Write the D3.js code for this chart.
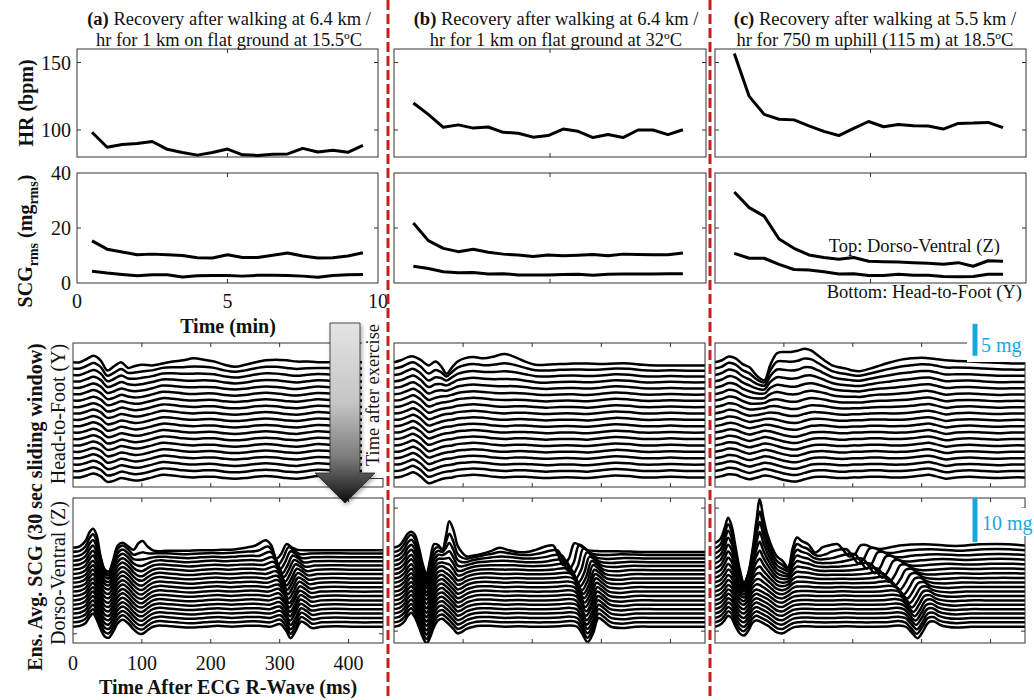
<!DOCTYPE html>
<html><head><meta charset="utf-8">
<script src="https://cdnjs.cloudflare.com/ajax/libs/d3/7.8.5/d3.min.js"></script>
<style>
body{margin:0;background:#fff}
svg{display:block}
text{font-family:"Liberation Serif","Times New Roman",serif;fill:#111}
</style></head>
<body><svg id="c" width="1034" height="700"></svg>
<script>
// ---------------- DATA ----------------
const timeMinA  = [0.5,1,1.5,2,2.5,3,3.5,4,4.5,5,5.5,6,6.5,7,7.5,8,8.5,9,9.5];
const timeMinBC = [0.62,1.10,1.58,2.06,2.54,3.02,3.50,3.98,4.46,4.94,5.42,5.90,6.38,6.86,7.34,7.82,8.30,8.78,9.26];

const hrA = [98.3,87.2,89.3,90,91.5,85.7,83.3,81.4,83.3,85.9,81.6,81.2,82,82.3,86.4,83.7,85,83.5,88.6];
const hrB = [120,111.6,102,103.8,101.4,102.2,98.3,97.6,94.7,95.9,100.7,99,94.4,96.6,94.4,100,100,96.6,100.2];
const hrC = [156.7,124.9,111.6,108,107.5,103.1,99,95.9,101.2,106.3,102.4,104.1,103.1,102.9,100.7,104.9,105.1,105.6,101.7];

const scgZA = [15.3,12.3,11.3,10.3,10.5,10.3,10,9.2,9.1,10.3,9.3,9.3,10.1,10.9,9.8,9.1,9.2,9.8,11];
const scgYA = [4.3,3.6,3.1,2.6,3,3,2.2,2.6,2.7,2.7,2.5,2.8,2.8,2.7,2.5,2.1,2.7,3,3.1];
const scgZB = [21.8,15.4,12.6,11.4,12.3,11.2,10.5,10.2,9.6,10.2,9.9,10.1,10.4,9.9,10.5,10.4,10.3,10.3,10.9];
const scgYB = [6.1,5.3,4.1,3.7,3.8,3.3,3.4,2.9,2.9,2.9,3.1,3.2,2.8,3.2,3.3,3.3,3.3,3.4,3.4];
const scgZC = [33.1,27.4,24.3,16,12.6,10.2,9.3,8.6,9.3,7.9,7.7,7.6,7.4,7.2,6.8,7.4,6.1,8.1,7.9];
const scgYC = [10.8,9,9,6.8,4.9,4.7,4.1,3.3,3.4,2.7,2.7,3.2,2.8,2.8,2.4,2.3,2.4,3.2,3.2];

const hrTicks = [100,150];
const scgTicks = [0,20,40];
const minTicks = [0,5,10];
const msTicks = [0,100,200,300,400];

const titlesLine1 = [["(a)"," Recovery after walking at 6.4 km /"],["(b)"," Recovery after walking at 6.4 km /"],["(c)"," Recovery after walking at 5.5 km /"]];
const titlesLine2 = ["hr for 1 km on flat ground at 15.5ºC","hr for 1 km on flat ground at 32ºC","hr for 750 m uphill (115 m) at 18.5ºC"];

// Ensemble-averaged SCG waveforms (mg):
// "late" = recovered beat shape (lower traces), "early" = first window after exercise (top trace)
const wavAY_t     = [0,10,20,30,40,50,60,70,80,90,100,115,130,145,160,175,190,205,220,235,250,265,280,295,310,325,340,355,375,400,425,450];
const wavAY_late  = [0,0,0.3,0.6,0.2,-0.7,-0.5,-0.1,-0.3,-0.5,-0.4,0,0.4,0.3,0.1,0,0.1,0.1,-0.1,-0.2,-0.1,0.1,0.2,0.1,-0.1,-0.2,0,0.2,0.1,0,0,0];
const wavAY_early = [0,0,0.5,1.0,0.3,-1.3,-0.6,0,-0.9,-0.6,-0.4,-0.5,-0.2,0.1,0.3,0.6,0.4,0.1,-0.4,-0.7,-0.4,0,0.3,0.4,0.3,0.1,0.1,0,0,0,0,0];

const wavBY_t     = [0,10,20,28,38,50,60,68,76,84,92,102,115,130,145,160,175,190,205,220,240,260,280,300,320,340,360,380,400,425,450];
const wavBY_late  = [0,0.1,0.5,0.8,0.2,-0.9,-0.6,-0.3,-0.1,0,0.2,0.3,0.4,0.3,0.1,0,0.1,0.1,0,-0.1,0,0,-0.1,0.1,0.3,0.2,0,0,0.1,0,0];
const wavBY_early = [0,0.3,0.8,0.9,0.4,-0.5,0.1,-0.6,-1.8,-0.8,0.1,0.6,0.8,0.6,0.9,1.3,0.8,0.1,-0.4,-0.4,-0.3,-0.2,-0.2,-0.3,-0.2,-0.2,-0.4,-0.5,-0.5,-0.5,-0.5];

const wavCY_t     = [0,10,20,30,40,50,58,65,72,80,90,100,110,120,130,140,150,160,170,180,190,200,210,225,240,255,270,285,300,310,320,335,350,370,390,410,430,450];
const wavCY_late  = [0,0.2,0.5,0.4,0,-0.3,-0.1,0.1,0.3,0.2,-0.1,-0.4,-0.6,-0.6,-0.3,0,0.1,0.1,0,-0.1,-0.1,0,0,0.1,0.1,0,0,0.1,0.3,0.4,0.2,-0.2,0,0.1,0,-0.1,0,0];
const wavCY_early = [0,0.3,0.9,0.6,-0.3,-0.8,-1.8,-2.5,-2.8,-0.5,1.4,1.6,1.6,1.8,2.1,1.8,1.0,0.2,-0.5,-0.8,-1.0,-1.3,-1.4,-1.0,-0.5,0,0.4,0.6,0.7,0.6,0.5,0.3,0.2,0.1,0,-0.1,-0.2,-0.2];

const wavAZ_t     = [0,10,18,24,29,34,40,46,52,58,65,72,80,88,95,101,108,116,125,135,150,170,190,210,230,250,270,285,300,308,315,322,330,338,346,360,380,410,450,500];
const wavAZ_late  = [0,0.2,0.8,2.2,3.0,1.8,-0.5,-2.2,-2.5,-1.2,0.8,1.6,0.8,-0.6,-1.5,-1.6,-0.8,0,0.3,0.2,0,-0.2,0,0.2,0,0.2,0.2,0,0.6,-0.8,-2.6,-1.0,1.2,0.6,-0.3,0,0.1,0,0,0];
const wavAZ_early = [0,0.3,1.5,3.5,4.3,3.0,-2,-5,-5.5,-3,0.5,1.1,0.3,-0.5,1.0,1.5,0.3,-0.6,-0.8,-0.7,-0.7,-0.7,-0.6,-0.6,-0.5,-0.4,0,0.5,1.7,0.5,-2.5,-1.5,0.8,0,-0.5,-0.6,-0.6,-0.6,-0.6,-0.6];

const wavBZ_t     = [0,8,15,20,25,30,36,42,47,52,58,64,70,75,80,86,92,98,105,115,125,140,160,180,200,220,240,255,265,272,280,288,296,304,314,330,350,380,410,450,500];
const wavBZ_late  = [0,0.3,1.2,2.5,3.2,2.2,0,-2.5,-3.8,-2.5,0,1.5,1.8,1.2,0.5,-0.5,-1.5,-1.2,-0.5,0,0.2,0.2,0,0.1,0,0,0.1,0.3,0,-1.5,-3.5,-1.5,2.0,1.2,0,-0.3,0,0,0,0,0];
const wavBZ_early = [0,0.5,2.0,3.2,3.6,3.0,0,-4,-6,-3,0.8,0.6,-0.5,2.5,6.0,4.0,0.5,-1.0,-2.0,-1.8,-1.5,-0.8,0,-0.6,-1.0,-1.0,-0.5,0.3,0.5,-1.5,-4.0,-2.5,1.0,0.5,-0.5,-0.8,-0.8,-1.0,-1.0,-1.0,-1.0];

const wavCZ_t     = [0,8,14,19,24,30,36,42,48,54,60,65,70,76,83,90,98,106,113,119,126,135,150,170,190,210,230,252,265,275,283,292,300,308,316,325,335,350,370,395,415,437,450,500];
const wavCZ_late  = [0,0.5,1.5,2.5,2.0,0,-1.5,-2.0,-1.0,0.8,1.5,1.2,0.8,0.3,-0.5,-1.3,-1.5,-0.8,-0.2,0,0.1,0.1,0,0,0.1,0,0,0.1,0.3,0,-1.2,-2.6,-1.0,1.0,1.2,0.4,0,-0.2,0,0,0,0,0,0];
const wavCZ_early = [1,2,4.5,6.8,5.0,0,-5,-8,-6,-1,6,11,7,3,0,-2,-3,-4.5,0,2.3,1.5,0.8,-0.5,-1.0,-1.1,-0.8,-0.5,0,0.6,0.8,-0.5,-2.0,-1.5,0.5,0.6,0,-0.3,0.5,0.8,0.4,0.8,0.8,0.5,0.5];

// time of the late (AC) complex in each Z template (ms)
const acRefA = 315, acRefB = 280, acRefC = 292;

// per 30-s window (19 windows, top to bottom): amplitude gain, share of early shape, AC complex time (ms)
const gainA = [1.4,1.25,1.15,1.1,1.05,1.05,1,1,1,1,1,1,1,1,1,1,1,1,1];
const mixA  = [1,0.55,0.35,0.2,0.12,0.06,0.03,0,0,0,0,0,0,0,0,0,0,0,0];
const acA   = [295,298,301,304,306,308,310,311,312,313,314,314,315,315,315,316,316,316,316];
const gainB = [1.6,1.4,1.25,1.15,1.1,1.05,1.05,1,1,1,1,1,1,1,1,1,1,1,1];
const mixB  = [1,0.65,0.45,0.3,0.2,0.12,0.06,0.03,0,0,0,0,0,0,0,0,0,0,0];
const acB   = [245,252,258,263,267,270,272,274,275,276,277,278,278,279,279,280,280,280,280];
const gainC = [2.0,1.8,1.6,1.45,1.3,1.2,1.12,1.06,1.03,1,1,1,1,1,1,1,1,1,1];
const mixC  = [1,0.8,0.65,0.52,0.4,0.3,0.22,0.15,0.1,0.06,0.03,0,0,0,0,0,0,0,0];
const acC   = [195,208,220,232,243,253,261,268,274,279,283,286,288,290,291,292,293,293,294];

const zTicksA = [-0.7,-19.6];
const zTicksBC = [9,-19];

// ---------------- LAYOUT ----------------
const svg = d3.select('#c');
const topCols = [{x0:77,x1:378},{x0:394,x1:706},{x0:715,x1:1026}];
const botCols = [{x0:73,x1:383},{x0:394,x1:705},{x0:715,x1:1025}];
const hrBox = {y0:49,y1:157}, scgBox = {y0:173,y1:283};
const yBox = {y0:343,y1:487}, zBox = {y0:498,y1:643};
const traceStep = 1; // mg between successive windows

const defs = svg.append('defs');
let clipId = 0;

function box(x0,x1,y0,y1){
  svg.append('rect').attr('x',x0).attr('y',y0).attr('width',x1-x0).attr('height',y1-y0)
    .attr('fill','none').attr('stroke','#333').attr('stroke-width',1);
}
function xTicks(xs, vals, y0, y1){
  vals.forEach(v=>{
    const x = xs(v);
    svg.append('line').attr('x1',x).attr('x2',x).attr('y1',y1).attr('y2',y1-4).attr('stroke','#333');
    svg.append('line').attr('x1',x).attr('x2',x).attr('y1',y0).attr('y2',y0+4).attr('stroke','#333');
  });
}
function yTicks(ys, vals, x0, x1){
  vals.forEach(v=>{
    const y = ys(v);
    svg.append('line').attr('x1',x0).attr('x2',x0+4).attr('y1',y).attr('y2',y).attr('stroke','#333');
    svg.append('line').attr('x1',x1).attr('x2',x1-4).attr('y1',y).attr('y2',y).attr('stroke','#333');
  });
}

// ---------------- TOP PANELS ----------------
const hrSets = [hrA,hrB,hrC];
const scgSets = [[scgZA,scgYA],[scgZB,scgYB],[scgZC,scgYC]];
const timeSets = [timeMinA,timeMinBC,timeMinBC];

topCols.forEach((c,i)=>{
  const xs = d3.scaleLinear().domain([0,10]).range([c.x0,c.x1]);
  const yh = d3.scaleLinear().domain([80,160]).range([hrBox.y1,hrBox.y0]);
  const ysg = d3.scaleLinear().domain([0,40]).range([scgBox.y1,scgBox.y0]);
  const line = d3.line().x((d,j)=>xs(timeSets[i][j])).curve(d3.curveLinear);

  box(c.x0,c.x1,hrBox.y0,hrBox.y1);
  box(c.x0,c.x1,scgBox.y0,scgBox.y1);
  xTicks(xs,[5],hrBox.y0,hrBox.y1);
  xTicks(xs,[5],scgBox.y0,scgBox.y1);
  yTicks(yh,hrTicks,c.x0,c.x1);
  yTicks(ysg,[20],c.x0,c.x1);

  svg.append('path').datum(hrSets[i]).attr('d',line.y(d=>yh(d)))
    .attr('fill','none').attr('stroke','#000').attr('stroke-width',3).attr('stroke-linejoin','round');
  scgSets[i].forEach(s=>{
    svg.append('path').datum(s).attr('d',line.y(d=>ysg(d)))
      .attr('fill','none').attr('stroke','#000').attr('stroke-width',3).attr('stroke-linejoin','round');
  });

  // titles
  const cx = (i===0)?229:(i===1?556:875);
  const t1 = svg.append('text').attr('x',cx).attr('y',25).attr('text-anchor','middle').attr('font-size',18.5);
  t1.append('tspan').attr('font-weight','bold').text(titlesLine1[i][0]);
  t1.append('tspan').text(titlesLine1[i][1]);
  svg.append('text').attr('x',cx).attr('y',46).attr('text-anchor','middle').attr('font-size',18.5).text(titlesLine2[i]);

  if(i===0){
    hrTicks.forEach(v=>svg.append('text').attr('x',c.x0-6).attr('y',yh(v)).attr('dy','0.35em')
      .attr('text-anchor','end').attr('font-size',20).text(v));
    scgTicks.forEach(v=>svg.append('text').attr('x',c.x0-6).attr('y',ysg(v)).attr('dy','0.35em')
      .attr('text-anchor','end').attr('font-size',20).text(v));
    minTicks.forEach(v=>svg.append('text').attr('x',xs(v)).attr('y',308)
      .attr('text-anchor','middle').attr('font-size',20).text(v));
    svg.append('text').attr('x',228).attr('y',333).attr('text-anchor','middle')
      .attr('font-size',20).attr('font-weight','bold').text('Time (min)');
  }
});

// y labels top
svg.append('text').attr('transform','translate(33,103) rotate(-90)').attr('text-anchor','middle')
  .attr('font-size',20).attr('font-weight','bold').text('HR (bpm)');
{
  const t = svg.append('text').attr('transform','translate(32,241) rotate(-90)').attr('text-anchor','middle')
    .attr('font-size',20).attr('font-weight','bold');
  t.append('tspan').text('SCG');
  t.append('tspan').attr('dy',6).attr('font-size',14).text('rms');
  t.append('tspan').attr('dy',-6).text(' (mg');
  t.append('tspan').attr('dy',6).attr('font-size',14).text('rms');
  t.append('tspan').attr('dy',-6).text(')');
}
svg.append('text').attr('x',1000).attr('y',252).attr('text-anchor','end').attr('font-size',18.5).text('Top: Dorso-Ventral (Z)');
svg.append('text').attr('x',1022).attr('y',298).attr('text-anchor','end').attr('font-size',18.5).text('Bottom: Head-to-Foot (Y)');

// ---------------- WATERFALL PANELS ----------------
function warpTime(t, R, ac){
  const T0 = 140, T3 = 450, a = R-40, b = R+40, a2 = ac-40, b2 = ac+40;
  if (t <= T0) return t;
  if (t <= a) return T0 + (t-T0)*(a2-T0)/(a-T0);
  if (t <= b) return t + (ac-R);
  if (t <= T3) return b2 + (t-b)*(T3-b2)/(T3-b);
  return t;
}
const cols = [
  {gain:gainA,mix:mixA,ac:acA,
   Y:{t:wavAY_t,late:wavAY_late,early:wavAY_early},
   Z:{t:wavAZ_t,late:wavAZ_late,early:wavAZ_early,R:acRefA}, zt:zTicksA},
  {gain:gainB,mix:mixB,ac:acB,
   Y:{t:wavBY_t,late:wavBY_late,early:wavBY_early},
   Z:{t:wavBZ_t,late:wavBZ_late,early:wavBZ_early,R:acRefB}, zt:zTicksBC},
  {gain:gainC,mix:mixC,ac:acC,
   Y:{t:wavCY_t,late:wavCY_late,early:wavCY_early},
   Z:{t:wavCZ_t,late:wavCZ_late,early:wavCZ_early,R:acRefC}, zt:zTicksBC}
];

function drawWaterfall(c, col, wav, bx, ydom, ticks){
  const xs = d3.scaleLinear().domain([0,450]).range([c.x0,c.x1]);
  const ys = d3.scaleLinear().domain(ydom).range([bx.y1,bx.y0]);
  const id = 'clip'+(clipId++);
  defs.append('clipPath').attr('id',id).append('rect')
    .attr('x',c.x0).attr('y',bx.y0).attr('width',c.x1-c.x0).attr('height',bx.y1-bx.y0);
  const g = svg.append('g').attr('clip-path',`url(#${id})`);
  const line = d3.line().x(d=>xs(d[0])).y(d=>ys(d[1])).curve(d3.curveCatmullRom.alpha(0.5));
  col.gain.forEach((gn,k)=>{
    const m = col.mix[k];
    const pts = wav.t.map((tt,i)=>[
      wav.R ? warpTime(tt,wav.R,col.ac[k]) : tt,
      -k*traceStep + (1-m)*gn*wav.late[i] + m*wav.early[i]
    ]);
    g.append('path').attr('d',line(pts)).attr('fill','none').attr('stroke','#000')
      .attr('stroke-width',2.5).attr('stroke-linejoin','round');
  });
  box(c.x0,c.x1,bx.y0,bx.y1);
  xTicks(xs,[100,200,300,400],bx.y0,bx.y1);
  if(ticks) yTicks(ys,ticks,c.x0,c.x1);
  return xs;
}

botCols.forEach((c,i)=>{
  drawWaterfall(c, cols[i], cols[i].Y, yBox, [-19.5,3], null);
  const xs = drawWaterfall(c, cols[i], cols[i].Z, zBox, [-21.7,11.3], cols[i].zt);
  if(i===0){
    msTicks.forEach(v=>svg.append('text').attr('x',xs(v)).attr('y',670)
      .attr('text-anchor','middle').attr('font-size',20).text(v));
    svg.append('text').attr('x',228).attr('y',694).attr('text-anchor','middle')
      .attr('font-size',20).attr('font-weight','bold').text('Time After ECG R-Wave (ms)');
  }
});

// lower y labels
svg.append('text').attr('transform','translate(42,507) rotate(-90)').attr('text-anchor','middle')
  .attr('font-size',20).attr('font-weight','bold').text('Ens. Avg. SCG (30 sec sliding window)');
svg.append('text').attr('transform','translate(65,414) rotate(-90)').attr('text-anchor','middle')
  .attr('font-size',20).text('Head-to-Foot (Y)');
svg.append('text').attr('transform','translate(65,573) rotate(-90)').attr('text-anchor','middle')
  .attr('font-size',20).text('Dorso-Ventral (Z)');

// scale bars (panel c)
{
  const ysY = d3.scaleLinear().domain([-19.5,3]).range([yBox.y1,yBox.y0]);
  const ysZ = d3.scaleLinear().domain([-21.7,11.3]).range([zBox.y1,zBox.y0]);
  svg.append('rect').attr('x',967).attr('y',322).attr('width',64).attr('height',40).attr('fill','#fff');
  svg.append('line').attr('x1',975).attr('x2',975).attr('y1',ysY(6)).attr('y2',ysY(1))
    .attr('stroke','#1aa7e0').attr('stroke-width',5);
  svg.append('text').attr('x',981).attr('y',352).attr('font-size',20).style('fill','#1aa7e0').text('5 mg');
  svg.append('rect').attr('x',978).attr('y',508).attr('width',56).attr('height',28).attr('fill','#fff');
  svg.append('line').attr('x1',975).attr('x2',975).attr('y1',ysZ(11.3)).attr('y2',ysZ(1.3))
    .attr('stroke','#1aa7e0').attr('stroke-width',5);
  svg.append('text').attr('x',982).attr('y',530).attr('font-size',20).style('fill','#1aa7e0').text('10 mg');
}

// arrow "Time after exercise"
{
  const grad = defs.append('linearGradient').attr('id','ag').attr('x1',0).attr('y1',0).attr('x2',0).attr('y2',1);
  grad.append('stop').attr('offset','0%').attr('stop-color','#e4e4e4');
  grad.append('stop').attr('offset','45%').attr('stop-color','#c4c4c4');
  grad.append('stop').attr('offset','75%').attr('stop-color','#7a7a7a');
  grad.append('stop').attr('offset','100%').attr('stop-color','#0c0c0c');
  const f = defs.append('filter').attr('id','sh').attr('x','-30%').attr('y','-10%').attr('width','160%').attr('height','130%');
  f.append('feDropShadow').attr('dx',1.5).attr('dy',2).attr('stdDeviation',2).attr('flood-color','#000').attr('flood-opacity',0.35);
  svg.append('rect').attr('x',362).attr('y',321).attr('width',23).attr('height',157).attr('fill','#fff');
  svg.append('path').attr('d','M330,323 L360,323 L360,473 L375,473 L345,503 L315,473 L330,473 Z')
    .attr('fill','url(#ag)').attr('stroke','#222').attr('stroke-width',0.8).attr('filter','url(#sh)');
  svg.append('text').attr('transform','translate(379,395) rotate(-90)').attr('text-anchor','middle')
    .attr('font-size',18.5).text('Time after exercise');
}

// red dashed separators
[388,710].forEach(x=>{
  svg.append('line').attr('x1',x).attr('x2',x).attr('y1',0).attr('y2',700)
    .attr('stroke','#cc1b1b').attr('stroke-width',3).attr('stroke-dasharray','10,4');
});
</script></body></html>
